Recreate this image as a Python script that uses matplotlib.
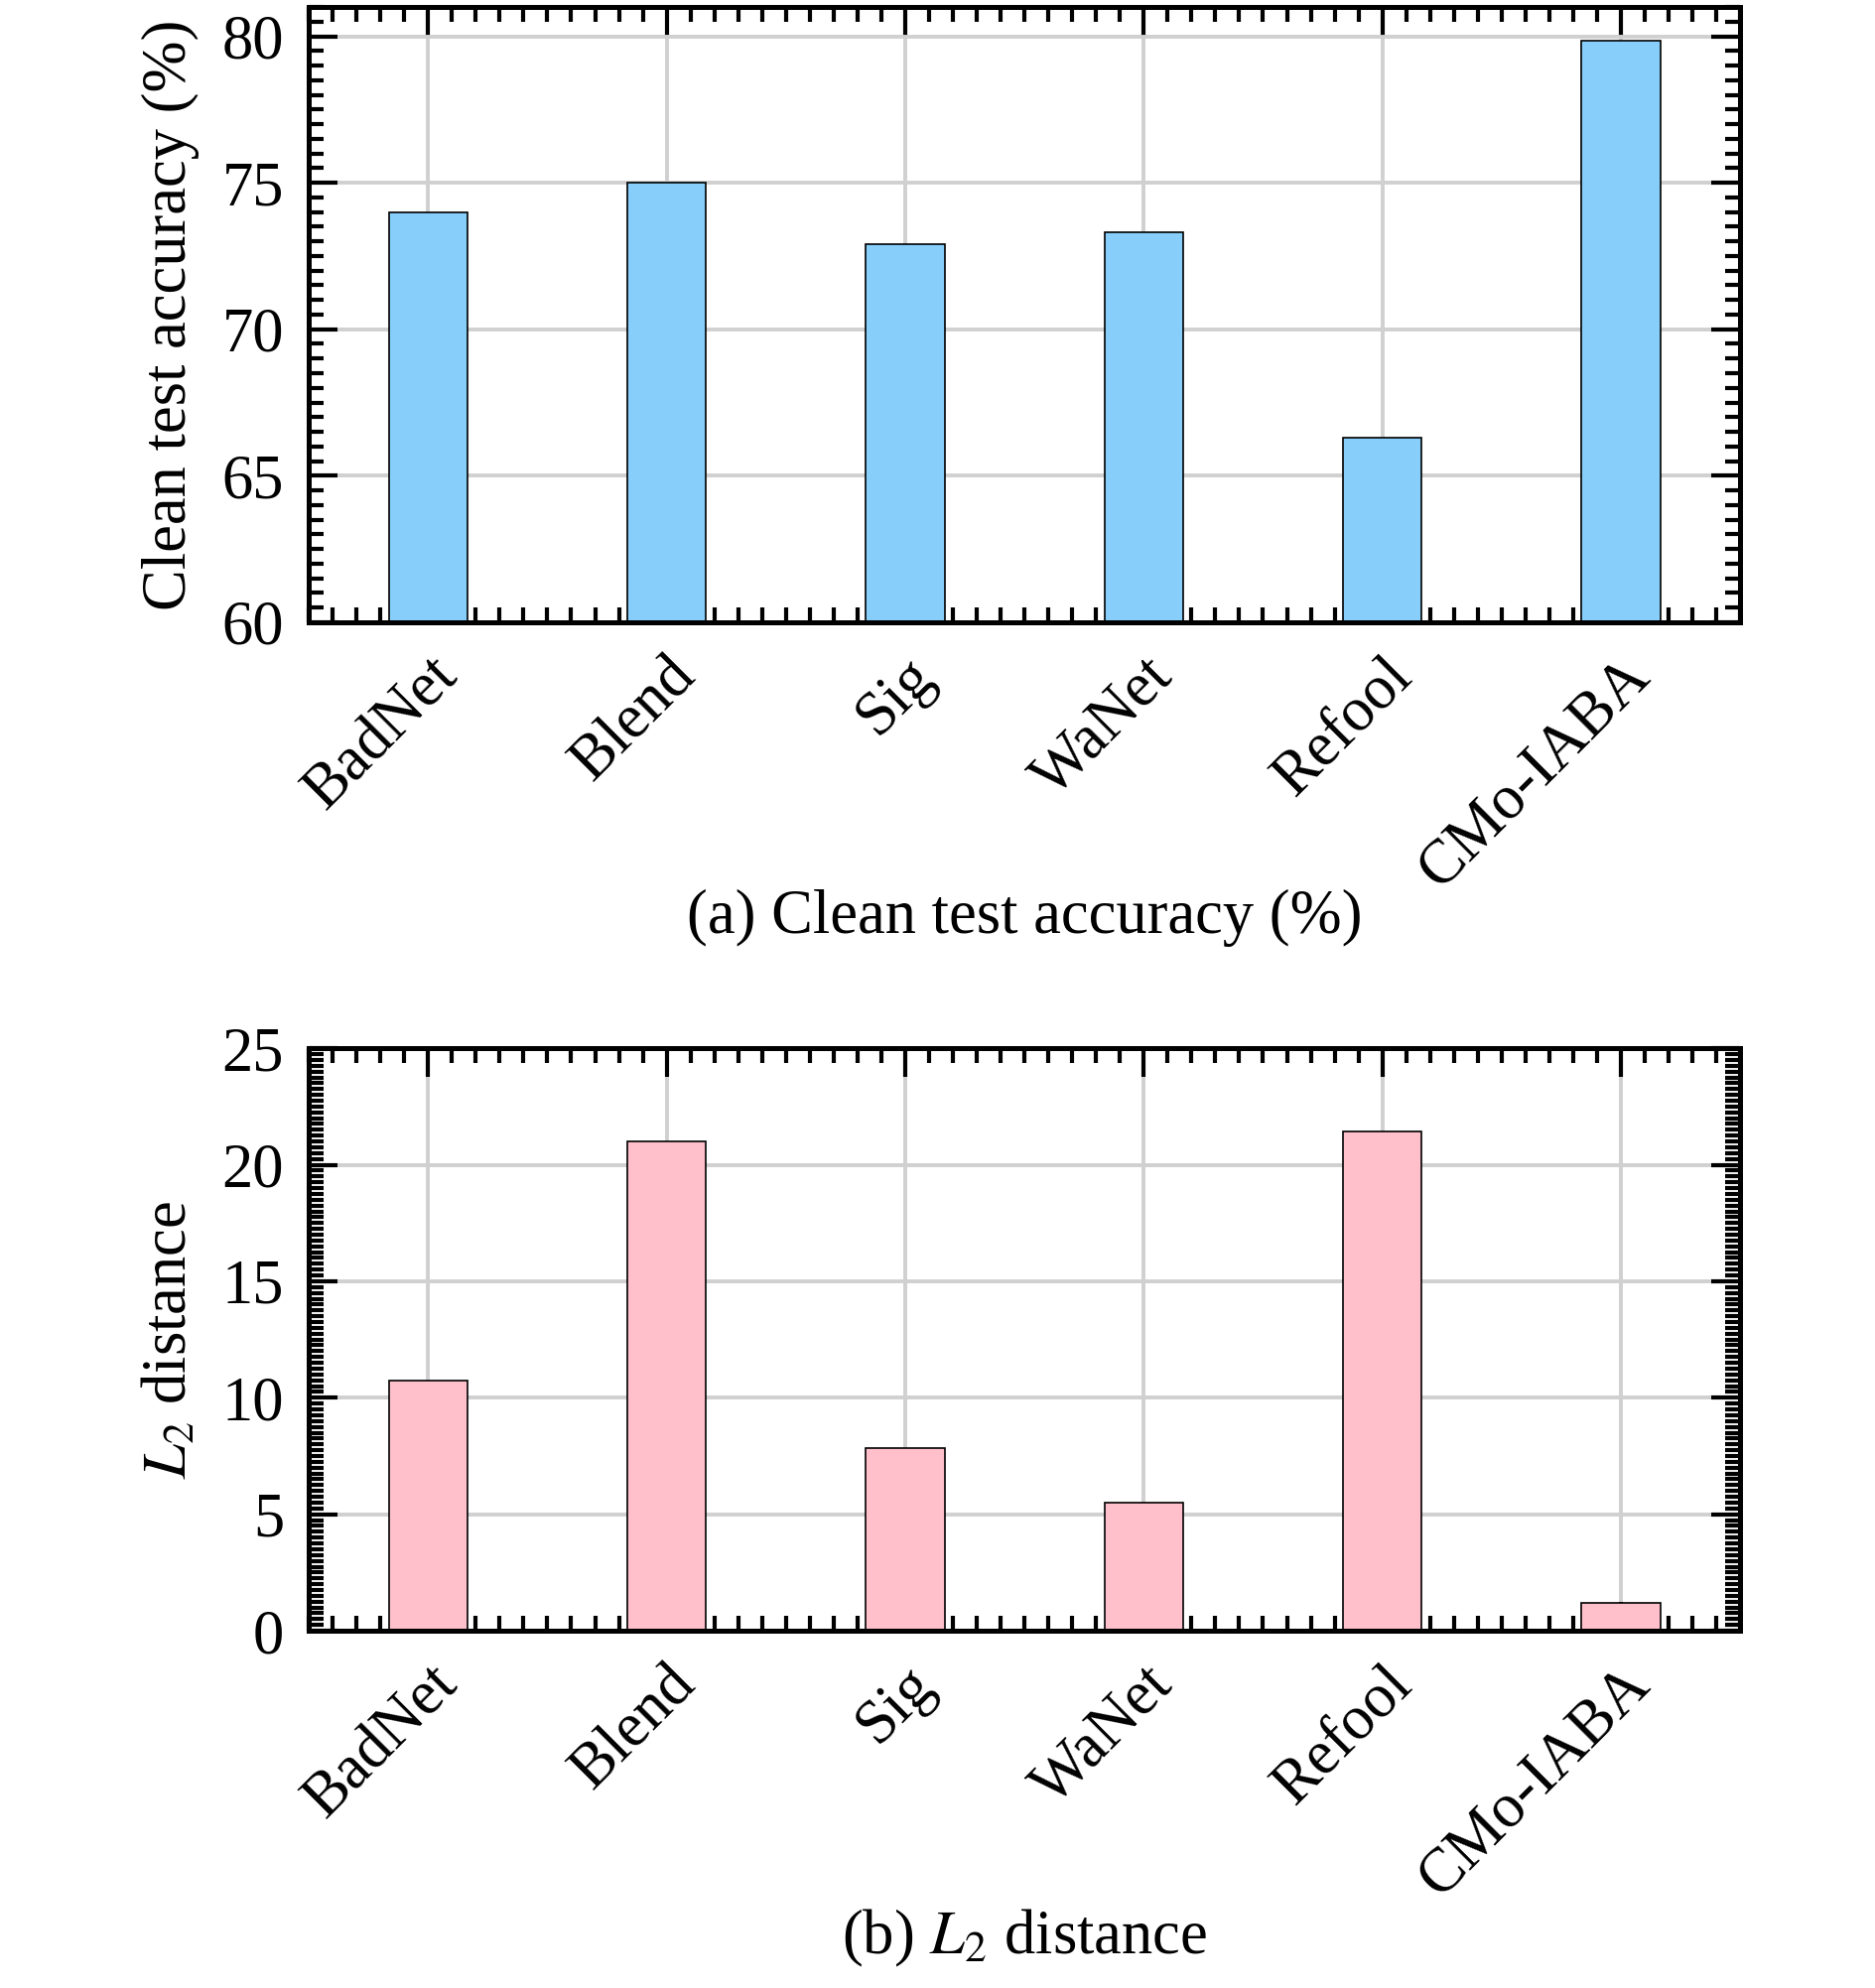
import numpy as np
import matplotlib
matplotlib.use("Agg")
import matplotlib.pyplot as plt
from matplotlib.ticker import MultipleLocator

plt.rcParams['font.family'] = ['Liberation Serif', 'DejaVu Serif']
plt.rcParams['mathtext.fontset'] = 'stix'

methods = ["BadNet", "Blend", "Sig", "WaNet", "Refool", "CMo-IABA"]
clean_acc = [74.0, 75.0, 72.9, 73.3, 66.3, 79.85]
l2_dist = [10.75, 21.0, 7.85, 5.5, 21.45, 1.2]

FS = 45

fig = plt.figure(figsize=(18.9, 20.03), dpi=100)
ax1 = fig.add_axes([0.1646, 0.687, 0.763, 0.3095])
ax2 = fig.add_axes([0.1646, 0.1797, 0.763, 0.293])


def style(ax, ylim, major, minor):
    x = np.arange(len(methods))
    ax.set_xlim(-0.5, len(methods) - 0.5)
    ax.set_ylim(*ylim)
    ax.set_xticks(x)
    ax.set_xticklabels(methods, rotation=45, ha='right', va='top',
                       rotation_mode='anchor')
    ax.xaxis.set_minor_locator(MultipleLocator(0.1))
    ax.yaxis.set_major_locator(MultipleLocator(major))
    ax.yaxis.set_minor_locator(MultipleLocator(minor))
    ax.tick_params(which='both', direction='in', top=True, right=True,
                   width=3.0, labelsize=FS, pad=18)
    ax.tick_params(which='major', length=21)
    ax.tick_params(which='minor', length=11)
    for s in ax.spines.values():
        s.set_linewidth(3.6)
    ax.grid(True, which='major', color='#d0d0d0', linewidth=2.8)
    ax.set_axisbelow(True)


ax1.bar(np.arange(len(methods)), clean_acc, width=0.33, color='#87CEFA',
        edgecolor='black', linewidth=1.2)
style(ax1, (60, 81), 5, 0.5)
ax1.set_ylabel("Clean test accuracy (%)", fontsize=FS)
ax1.yaxis.set_label_coords(-0.076, 0.5)

ax2.bar(np.arange(len(methods)), l2_dist, width=0.33, color='#FFC0CB',
        edgecolor='black', linewidth=1.2)
style(ax2, (0, 25), 5, 0.25)
ax2.set_ylabel("$L_2$ distance", fontsize=FS)
ax2.yaxis.set_label_coords(-0.076, 0.5)

fig.text(0.546, 0.538, "(a) Clean test accuracy (%)", ha='center',
         va='center', fontsize=FS)
fig.text(0.546, 0.025, "(b) $L_2$ distance", ha='center', va='center',
         fontsize=FS)

fig.savefig("out.png", dpi=100, facecolor='white')
